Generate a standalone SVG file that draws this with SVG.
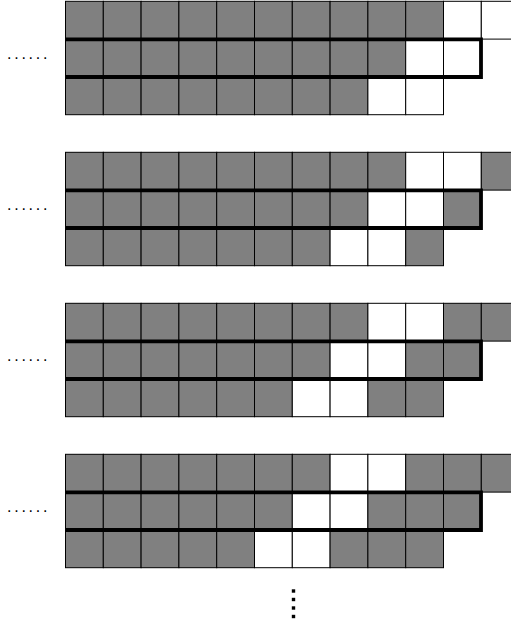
<svg xmlns="http://www.w3.org/2000/svg" xmlns:xlink="http://www.w3.org/1999/xlink" width="511" height="627" viewBox="0 0 511 627">
<style>
.g{fill:#808080;stroke:#000;stroke-width:1}
.w{fill:#fff;stroke:#000;stroke-width:1}
.thick{fill:none;stroke:#000;stroke-width:3.8;stroke-linejoin:miter}
.dots{font-family:"Liberation Sans",Arial,sans-serif;font-size:16px;letter-spacing:2.75px;fill:#000}
.vd{fill:#000}
</style>
<defs>
<rect id="g" class="g" width="37.8" height="37.8"/>
<rect id="w" class="w" width="37.8" height="37.8"/>
</defs>
<rect width="511" height="627" fill="#fff"/>
<g id="panel-1">
<g id="p1-row1">
<use href="#g" x="65.5" y="1.3"/><use href="#g" x="103.3" y="1.3"/><use href="#g" x="141.1" y="1.3"/><use href="#g" x="178.9" y="1.3"/><use href="#g" x="216.7" y="1.3"/><use href="#g" x="254.5" y="1.3"/><use href="#g" x="292.3" y="1.3"/><use href="#g" x="330.1" y="1.3"/><use href="#g" x="367.9" y="1.3"/><use href="#g" x="405.7" y="1.3"/><use href="#w" x="443.5" y="1.3"/><use href="#w" x="481.3" y="1.3"/>
</g>
<g id="p1-row2">
<use href="#g" x="65.5" y="39.1"/><use href="#g" x="103.3" y="39.1"/><use href="#g" x="141.1" y="39.1"/><use href="#g" x="178.9" y="39.1"/><use href="#g" x="216.7" y="39.1"/><use href="#g" x="254.5" y="39.1"/><use href="#g" x="292.3" y="39.1"/><use href="#g" x="330.1" y="39.1"/><use href="#g" x="367.9" y="39.1"/><use href="#w" x="405.7" y="39.1"/><use href="#w" x="443.5" y="39.1"/>
</g>
<g id="p1-row3">
<use href="#g" x="65.5" y="76.9"/><use href="#g" x="103.3" y="76.9"/><use href="#g" x="141.1" y="76.9"/><use href="#g" x="178.9" y="76.9"/><use href="#g" x="216.7" y="76.9"/><use href="#g" x="254.5" y="76.9"/><use href="#g" x="292.3" y="76.9"/><use href="#g" x="330.1" y="76.9"/><use href="#w" x="367.9" y="76.9"/><use href="#w" x="405.7" y="76.9"/>
</g>
<path class="thick" d="M65.5,39.3 H481 V77 H65.5"/>
<text class="dots" x="7" y="59">......</text>
</g>
<g id="panel-2" transform="translate(0,151)">
<g id="p2-row1">
<use href="#g" x="65.5" y="1.3"/><use href="#g" x="103.3" y="1.3"/><use href="#g" x="141.1" y="1.3"/><use href="#g" x="178.9" y="1.3"/><use href="#g" x="216.7" y="1.3"/><use href="#g" x="254.5" y="1.3"/><use href="#g" x="292.3" y="1.3"/><use href="#g" x="330.1" y="1.3"/><use href="#g" x="367.9" y="1.3"/><use href="#w" x="405.7" y="1.3"/><use href="#w" x="443.5" y="1.3"/><use href="#g" x="481.3" y="1.3"/>
</g>
<g id="p2-row2">
<use href="#g" x="65.5" y="39.1"/><use href="#g" x="103.3" y="39.1"/><use href="#g" x="141.1" y="39.1"/><use href="#g" x="178.9" y="39.1"/><use href="#g" x="216.7" y="39.1"/><use href="#g" x="254.5" y="39.1"/><use href="#g" x="292.3" y="39.1"/><use href="#g" x="330.1" y="39.1"/><use href="#w" x="367.9" y="39.1"/><use href="#w" x="405.7" y="39.1"/><use href="#g" x="443.5" y="39.1"/>
</g>
<g id="p2-row3">
<use href="#g" x="65.5" y="76.9"/><use href="#g" x="103.3" y="76.9"/><use href="#g" x="141.1" y="76.9"/><use href="#g" x="178.9" y="76.9"/><use href="#g" x="216.7" y="76.9"/><use href="#g" x="254.5" y="76.9"/><use href="#g" x="292.3" y="76.9"/><use href="#w" x="330.1" y="76.9"/><use href="#w" x="367.9" y="76.9"/><use href="#g" x="405.7" y="76.9"/>
</g>
<path class="thick" d="M65.5,39.3 H481 V77 H65.5"/>
<text class="dots" x="7" y="59">......</text>
</g>
<g id="panel-3" transform="translate(0,302)">
<g id="p3-row1">
<use href="#g" x="65.5" y="1.3"/><use href="#g" x="103.3" y="1.3"/><use href="#g" x="141.1" y="1.3"/><use href="#g" x="178.9" y="1.3"/><use href="#g" x="216.7" y="1.3"/><use href="#g" x="254.5" y="1.3"/><use href="#g" x="292.3" y="1.3"/><use href="#g" x="330.1" y="1.3"/><use href="#w" x="367.9" y="1.3"/><use href="#w" x="405.7" y="1.3"/><use href="#g" x="443.5" y="1.3"/><use href="#g" x="481.3" y="1.3"/>
</g>
<g id="p3-row2">
<use href="#g" x="65.5" y="39.1"/><use href="#g" x="103.3" y="39.1"/><use href="#g" x="141.1" y="39.1"/><use href="#g" x="178.9" y="39.1"/><use href="#g" x="216.7" y="39.1"/><use href="#g" x="254.5" y="39.1"/><use href="#g" x="292.3" y="39.1"/><use href="#w" x="330.1" y="39.1"/><use href="#w" x="367.9" y="39.1"/><use href="#g" x="405.7" y="39.1"/><use href="#g" x="443.5" y="39.1"/>
</g>
<g id="p3-row3">
<use href="#g" x="65.5" y="76.9"/><use href="#g" x="103.3" y="76.9"/><use href="#g" x="141.1" y="76.9"/><use href="#g" x="178.9" y="76.9"/><use href="#g" x="216.7" y="76.9"/><use href="#g" x="254.5" y="76.9"/><use href="#w" x="292.3" y="76.9"/><use href="#w" x="330.1" y="76.9"/><use href="#g" x="367.9" y="76.9"/><use href="#g" x="405.7" y="76.9"/>
</g>
<path class="thick" d="M65.5,39.3 H481 V77 H65.5"/>
<text class="dots" x="7" y="59">......</text>
</g>
<g id="panel-4" transform="translate(0,453)">
<g id="p4-row1">
<use href="#g" x="65.5" y="1.3"/><use href="#g" x="103.3" y="1.3"/><use href="#g" x="141.1" y="1.3"/><use href="#g" x="178.9" y="1.3"/><use href="#g" x="216.7" y="1.3"/><use href="#g" x="254.5" y="1.3"/><use href="#g" x="292.3" y="1.3"/><use href="#w" x="330.1" y="1.3"/><use href="#w" x="367.9" y="1.3"/><use href="#g" x="405.7" y="1.3"/><use href="#g" x="443.5" y="1.3"/><use href="#g" x="481.3" y="1.3"/>
</g>
<g id="p4-row2">
<use href="#g" x="65.5" y="39.1"/><use href="#g" x="103.3" y="39.1"/><use href="#g" x="141.1" y="39.1"/><use href="#g" x="178.9" y="39.1"/><use href="#g" x="216.7" y="39.1"/><use href="#g" x="254.5" y="39.1"/><use href="#w" x="292.3" y="39.1"/><use href="#w" x="330.1" y="39.1"/><use href="#g" x="367.9" y="39.1"/><use href="#g" x="405.7" y="39.1"/><use href="#g" x="443.5" y="39.1"/>
</g>
<g id="p4-row3">
<use href="#g" x="65.5" y="76.9"/><use href="#g" x="103.3" y="76.9"/><use href="#g" x="141.1" y="76.9"/><use href="#g" x="178.9" y="76.9"/><use href="#g" x="216.7" y="76.9"/><use href="#w" x="254.5" y="76.9"/><use href="#w" x="292.3" y="76.9"/><use href="#g" x="330.1" y="76.9"/><use href="#g" x="367.9" y="76.9"/><use href="#g" x="405.7" y="76.9"/>
</g>
<path class="thick" d="M65.5,39.3 H481 V77 H65.5"/>
<text class="dots" x="7" y="59">......</text>
</g>
<g id="vdots">
<rect class="vd" x="291.8" y="589.3" width="3.4" height="3.4"/>
<rect class="vd" x="291.8" y="597.8" width="3.4" height="3.4"/>
<rect class="vd" x="291.8" y="606.3" width="3.4" height="3.4"/>
<rect class="vd" x="291.8" y="614.8" width="3.4" height="3.4"/>
</g>
</svg>
